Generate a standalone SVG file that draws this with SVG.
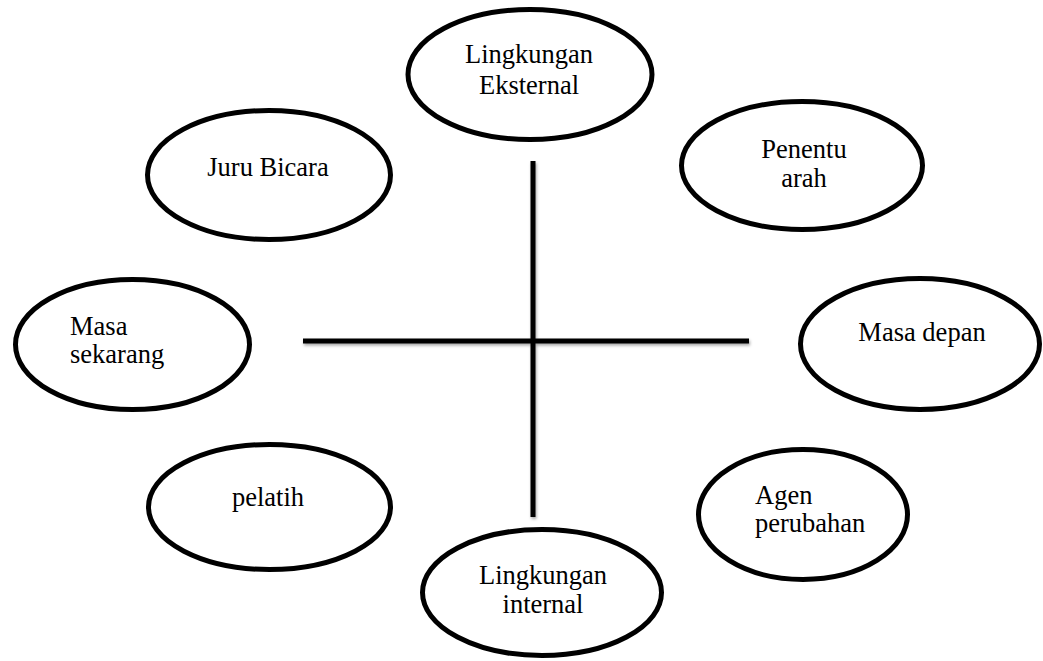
<svg xmlns="http://www.w3.org/2000/svg" width="1043" height="661" viewBox="0 0 1043 661">
  <defs>
    <style>
      .node ellipse { fill: #ffffff; stroke: #000000; stroke-width: 5; }
      .node text { font-family: "Liberation Serif", "Times New Roman", serif; font-size: 26.5px; fill: #000000; }
      .mid { text-anchor: middle; }
      .axis { stroke: #000000; stroke-width: 5; fill: none; }
    </style>
    <filter id="soft-shadow" x="-5%" y="-20%" width="110%" height="140%">
      <feDropShadow dx="1" dy="2" stdDeviation="1.5" flood-color="#000000" flood-opacity="0.35"/>
    </filter>
  </defs>
  <rect width="1043" height="661" fill="#ffffff"/>

  <!-- cross of axes in the middle -->
  <g id="connectors" filter="url(#soft-shadow)">
    <line class="axis" x1="533" y1="161" x2="533" y2="517"/>
    <line class="axis" x1="303" y1="341" x2="749" y2="341"/>
  </g>

  <g id="lingkungan-eksternal" class="node">
    <ellipse cx="530" cy="74.5" rx="122" ry="65"/>
    <text class="mid" x="529" y="63">Lingkungan</text>
    <text class="mid" x="529" y="94">Eksternal</text>
  </g>

  <g id="juru-bicara" class="node">
    <ellipse cx="269" cy="175" rx="121.5" ry="64.5"/>
    <text class="mid" x="268" y="176">Juru Bicara</text>
  </g>

  <g id="penentu-arah" class="node">
    <ellipse cx="802" cy="165.5" rx="120.5" ry="64"/>
    <text class="mid" x="804" y="158">Penentu</text>
    <text class="mid" x="804" y="187">arah</text>
  </g>

  <g id="masa-sekarang" class="node">
    <ellipse cx="132.5" cy="344.5" rx="117" ry="65"/>
    <text x="70" y="335">Masa</text>
    <text x="70" y="363">sekarang</text>
  </g>

  <g id="masa-depan" class="node">
    <ellipse cx="920" cy="344" rx="119.5" ry="65.5"/>
    <text class="mid" x="922" y="341">Masa depan</text>
  </g>

  <g id="pelatih" class="node">
    <ellipse cx="269.5" cy="507" rx="121" ry="62.5"/>
    <text class="mid" x="268" y="506">pelatih</text>
  </g>

  <g id="agen-perubahan" class="node">
    <ellipse cx="803" cy="514.5" rx="104.5" ry="65"/>
    <text x="755" y="504">Agen</text>
    <text x="755" y="532">perubahan</text>
  </g>

  <g id="lingkungan-internal" class="node">
    <ellipse cx="542" cy="592.5" rx="119.5" ry="63"/>
    <text class="mid" x="543" y="584">Lingkungan</text>
    <text class="mid" x="543" y="613">internal</text>
  </g>
</svg>
